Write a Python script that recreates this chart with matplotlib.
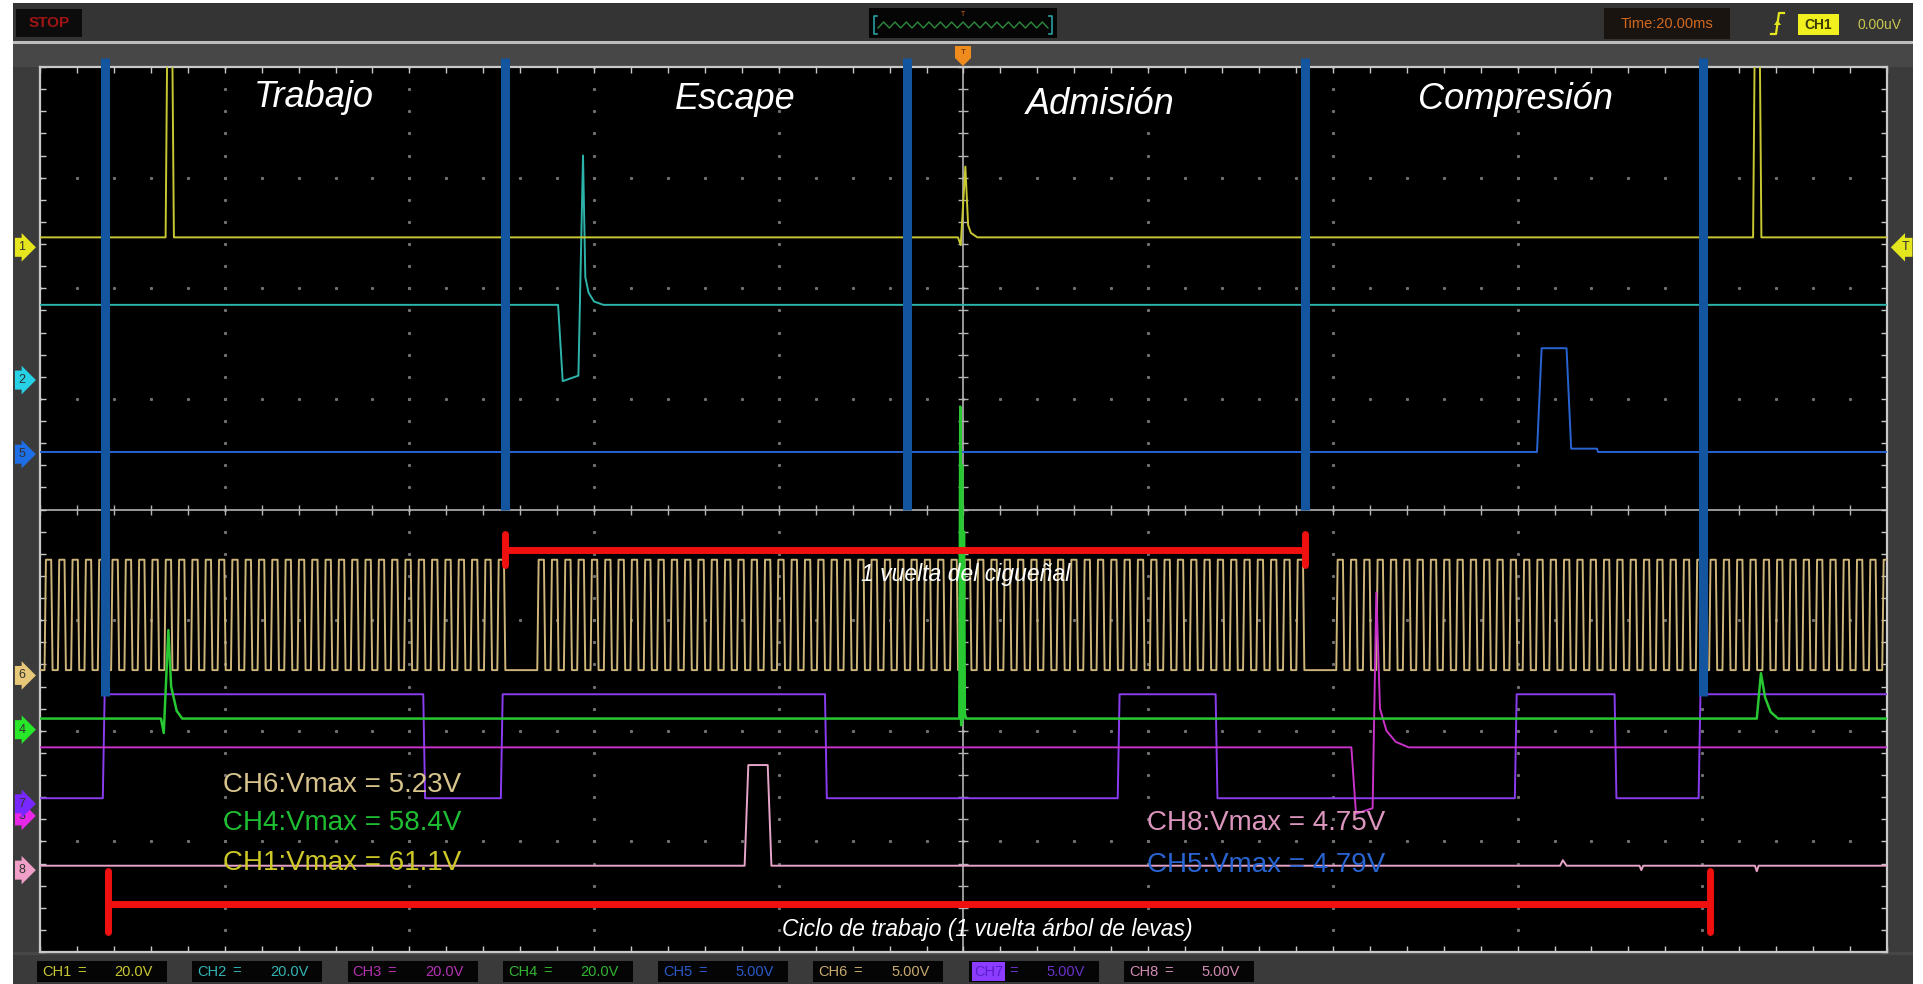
import numpy as np
import matplotlib
matplotlib.use("Agg")
import matplotlib.pyplot as plt
from matplotlib.patches import Rectangle, Polygon
from matplotlib.transforms import blended_transform_factory

plt.rcParams['font.family'] = ['Liberation Sans', 'DejaVu Sans']

W, H = 1924, 984
# screen grid in pixels (left, top, right, bottom)
GX0, GY0, GX1, GY1 = 40, 67, 1887, 952

# ---- channels -------------------------------------------------------------
channel_names = ["CH1", "CH2", "CH3", "CH4", "CH5", "CH6", "CH7", "CH8"]
volts_per_div = [20.0, 20.0, 20.0, 20.0, 5.0, 5.0, 5.0, 5.0]
scale_labels = ["20.0V", "20.0V", "20.0V", "20.0V", "5.00V", "5.00V", "5.00V", "5.00V"]
zero_levels = [2.37, 1.17, -2.77, -1.99, 0.50, -1.50, -2.66, -3.26]   # divisions
trace_colors = ["#c8c832", "#2db4aa", "#c832c8", "#28c832", "#2864d2", "#cdb478", "#8a3cf0", "#e6a5c8"]
tag_colors = ["#e6e61e", "#28d2e6", "#e628e6", "#28e628", "#1e6ee6", "#e6c878", "#7828ff", "#f0a0c8"]
label_colors = ["#c8c832", "#32b4b4", "#b432b4", "#32b432", "#2a5ac8", "#c8aa6e", "#6a32c8", "#d28cb4"]

vmax_channels = ["CH6", "CH4", "CH1", "CH8", "CH5"]
vmax_values = [5.23, 58.4, 61.1, 4.75, 4.79]
vmax_colors = ["#d7c38c", "#1ebe32", "#cdc828", "#dc96be", "#2864d2"]
vmax_pos_t = [-80.2, -80.2, -80.2, 19.9, 19.9]
vmax_pos_y = [-2.49, -2.835, -3.197, -2.835, -3.215]


def vpeak(name):
    i = channel_names.index(name)
    v = vmax_values[vmax_channels.index(name)]
    return zero_levels[i] + v / volts_per_div[i]


# CH1 ignition primary (time ms, level div)
ch1_base = 2.46
ch1_t = [-100, -86.4, -86.1, -85.8, -85.5, -0.6, -0.3, 0.2, 0.5, 0.8, 1.5, 85.5, 85.8, 86.1, 86.4, 100]
ch1_y = [ch1_base, ch1_base, vpeak("CH1"), vpeak("CH1"), ch1_base, ch1_base, 2.39, 3.10, 2.57, 2.50,
         ch1_base, ch1_base, vpeak("CH1"), vpeak("CH1"), ch1_base, ch1_base]

# CH2 injector
ch2_t = [-100, -43.9, -43.4, -41.7, -41.2, -40.95, -40.6, -40.0, -39.0, 100]
ch2_y = [1.85, 1.85, 1.16, 1.21, 3.20, 2.10, 1.96, 1.88, 1.85, 1.85]

# CH3
ch3_base = -2.15
ch3_t = [-100, 42.0, 42.5, 44.3, 44.7, 45.1, 45.8, 46.8, 48.2, 100]
ch3_y = [ch3_base, ch3_base, -2.75, -2.70, -0.75, -1.80, -2.00, -2.10, ch3_base, ch3_base]

# CH4 secondary
ch4_base = -1.89
ch4_t = [-100, -86.9, -86.6, -86.1, -85.8, -85.2, -84.6,
         -0.45, -0.35, -0.25, -0.15, -0.05, 0.05, 0.15, 0.3,
         85.9, 86.35, 86.8, 87.4, 88.2, 100]
ch4_y = [ch4_base, ch4_base, -2.02, -1.09, -1.60, -1.82, ch4_base,
         ch4_base, vpeak("CH4"), -1.95, 0.40, -1.90, -0.20, -1.85, ch4_base,
         ch4_base, -1.48, -1.70, -1.83, ch4_base, ch4_base]

# CH5 cam pulse
ch5_base = 0.52
ch5_t = [-100, 62.1, 62.6, 65.3, 65.8, 68.6, 68.7, 100]
ch5_y = [ch5_base, ch5_base, vpeak("CH5"), vpeak("CH5"), 0.55, 0.55, ch5_base, ch5_base]

# CH6 crank wheel 60-2
ch6_low = -1.452
ch6_gap_starts = [-49.76, 36.76]
ch6_teeth = 60
ch6_missing = 2

# CH7 square
ch7_high, ch7_low = -1.67, -2.61
ch7_edges = [-93.2, -58.5, -50.1, -15.0, 16.7, 27.3, 59.7, 70.5, 79.6]

# CH8
ch8_base = -3.22
ch8_t = [-100, -23.7, -23.3, -21.2, -20.8, 64.6, 64.9, 65.3, 73.2, 73.4, 73.6, 85.7, 85.9, 86.1, 100]
ch8_y = [ch8_base, ch8_base, vpeak("CH8"), vpeak("CH8"), ch8_base, ch8_base, -3.17, ch8_base,
         ch8_base, -3.26, ch8_base, ch8_base, -3.27, ch8_base, ch8_base]

# strokes
stroke_marks_t = [-93.0, -49.7, -6.1, 37.0, 80.1]
stroke_marks_bottom = [-1.69, 0.0, 0.0, 0.0, -1.69]
stroke_names = ["Trabajo", "Escape", "Admisión", "Compresión"]
stroke_label_t = [-70.4, -24.7, 14.8, 59.8]
stroke_label_y = [3.72, 3.71, 3.66, 3.71]

crank_span = [-49.7, 37.0]
crank_y = -0.37
cam_span = [-92.6, 80.8]
cam_y = -3.57


def tooth_wheel():
    rev = ch6_gap_starts[1] - ch6_gap_starts[0]
    period = rev / ch6_teeth
    high = vpeak("CH6")
    ramp = 0.15
    gaps = [ch6_gap_starts[0] - rev] + ch6_gap_starts
    t, y = [-100.0], [ch6_low]
    for g in gaps:
        first = g + (ch6_missing + 0.5) * period
        for k in range(ch6_teeth - ch6_missing):
            r = first + k * period
            t += [r, r + ramp, r + period / 2, r + period / 2 + ramp]
            y += [ch6_low, high, high, ch6_low]
    return t, y


def square(edges, low, high, ramp=0.2):
    t, y = [-100.0], [low]
    level = low
    for e in edges:
        nxt = high if level == low else low
        t += [e, e + ramp]
        y += [level, nxt]
        level = nxt
    t.append(100.0)
    y.append(level)
    return t, y


fig = plt.figure(figsize=(W / 100, H / 100), dpi=100, facecolor="white")

# ---- instrument chrome (pixel coords) ---------------------------------------
bg = fig.add_axes([0, 0, 1, 1])
bg.set_xlim(0, W)
bg.set_ylim(H, 0)
bg.axis("off")


def box(x0, y0, x1, y1, color, **kw):
    bg.add_patch(Rectangle((x0, y0), x1 - x0, y1 - y0, facecolor=color, edgecolor="none", **kw))


box(13, 3, 1913, 984, "#474747")
box(13, 3, 1913, 41, "#343434")
box(13, 41, 1913, 44, "#bdbdbd")
box(13, 67, GX0, GY1, "#3b3b3b")
box(GX1, 67, 1913, GY1, "#3b3b3b")
box(13, 955, 1913, 984, "#3a3a3a")

# STOP
box(16, 9, 82, 37, "#0c0c0c")
bg.text(49, 23, "STOP", color="#a01414", fontsize=11, fontweight="bold", ha="center", va="center")

# zoom overview window
box(869, 8, 1057, 38, "#050505")
zz_x = np.linspace(878, 1048, 31)
zz_y = np.where(np.arange(31) % 2 == 0, 28, 22)
bg.plot(zz_x, zz_y, color="#2e8b3e", lw=1)
for bx, d in [(874, 1), (1052, -1)]:
    bg.plot([bx + 3 * d, bx, bx, bx + 3 * d], [16, 16, 34, 34], color="#2aa0a0", lw=1.2)
bg.text(963, 15, "T", color="#d2691e", fontsize=5, ha="center", va="center")

# time base
box(1604, 8, 1730, 39, "#1a1410")
bg.text(1667, 24, "Time:20.00ms", color="#d2691e", fontsize=10.5, ha="center", va="center")

# trigger
bg.plot([1771, 1776, 1779, 1784], [34, 34, 13, 13], color="#e6e61e", lw=1.6)
bg.add_patch(Polygon([(1774, 25), (1781, 25), (1777.5, 20)], closed=True, fc="#e6e61e", ec="none"))
box(1798, 14, 1839, 35, "#f0f01e")
bg.text(1818.5, 25, "CH1", color="#3a3a00", fontsize=10, fontweight="bold", ha="center", va="center")
bg.text(1880, 25, "0.00uV", color="#c8c850", fontsize=10, ha="center", va="center")

# trigger position flag
bg.add_patch(Polygon([(955, 46), (971, 46), (971, 58), (963, 66), (955, 58)], closed=True,
                     fc="#f08c1e", ec="none"))
bg.text(963, 53, "T", color="#5a2800", fontsize=6, ha="center", va="center")

# channel scale boxes
for i, name in enumerate(channel_names):
    x0 = 37 + i * 155.3
    box(x0, 961, x0 + 130, 982, "#050505")
    if name == "CH7":
        bg.text(x0 + 5, 971.5, name, color="#5a1ec8", fontsize=10.5, ha="left", va="center",
                bbox=dict(boxstyle="square,pad=0.15", fc="#8c3cff", ec="none"))
    else:
        bg.text(x0 + 5, 971.5, name, color=label_colors[i], fontsize=10.5, ha="left", va="center")
    bg.text(x0 + 40, 971.5, "=", color=label_colors[i], fontsize=10.5, ha="left", va="center")
    bg.text(x0 + 116, 971.5, scale_labels[i], color=label_colors[i], fontsize=10.5,
            ha="right", va="center")

# ---- scope screen -----------------------------------------------------------
ax = fig.add_axes([GX0 / W, 1 - GY1 / H, (GX1 - GX0) / W, (GY1 - GY0) / H])
ax.set_facecolor("black")
ax.set_xlim(-100, 100)
ax.set_ylim(-4, 4)
for s in ax.spines.values():
    s.set_color("#c8c8c8")
    s.set_linewidth(1.6)
ax.set_xticks(np.arange(-100, 100.1, 4))
ax.set_yticks(np.arange(-4, 4.01, 0.2))
ax.tick_params(which="both", direction="in", length=4, width=1, color="#c8c8c8",
               top=True, right=True, labelbottom=False, labelleft=False)

# dotted graticule
fine_y = np.arange(-4, 4.01, 0.2)
fine_x = np.arange(-100, 100.1, 4)
for xv in [-80, -60, -40, -20, 20, 40, 60, 80]:
    ax.plot(np.full_like(fine_y, xv), fine_y, ls="none", marker="s", ms=1.2, color="#707070", zorder=1)
for yv in [-3, -2, -1, 1, 2, 3]:
    ax.plot(fine_x, np.full_like(fine_x, yv), ls="none", marker="s", ms=1.2, color="#707070", zorder=1)
ax.axhline(0, color="#b4b4b4", lw=1.2, zorder=1)
ax.axvline(0, color="#b4b4b4", lw=1.2, zorder=1)
ax.plot(fine_x, np.zeros_like(fine_x), ls="none", marker="|", ms=7, mew=1, color="#b4b4b4", zorder=1)
ax.plot(np.zeros_like(fine_y), fine_y, ls="none", marker="_", ms=7, mew=1, color="#b4b4b4", zorder=1)

# traces
t6, y6 = tooth_wheel()
ax.plot(t6, y6, color=trace_colors[5], lw=1.4, zorder=3)
t7, y7 = square(ch7_edges, ch7_low, ch7_high)
ax.plot(t7, y7, color=trace_colors[6], lw=1.4, zorder=3)
ax.plot(ch3_t, ch3_y, color=trace_colors[2], lw=1.4, zorder=3)
ax.plot(ch8_t, ch8_y, color=trace_colors[7], lw=1.4, zorder=3)
ax.plot(ch5_t, ch5_y, color=trace_colors[4], lw=1.4, zorder=3)
ax.plot(ch2_t, ch2_y, color=trace_colors[1], lw=1.4, zorder=3)
ax.plot(ch1_t, ch1_y, color=trace_colors[0], lw=1.4, zorder=3)
ax.plot(ch4_t, ch4_y, color=trace_colors[3], lw=1.8, zorder=3.5)

# channel offset tags
left_tr = blended_transform_factory(ax.transAxes, ax.transData)
for i, name in enumerate(channel_names):
    ax.text(-0.0098, zero_levels[i], name[2:], transform=left_tr, ha="center", va="center",
            fontsize=9, color="#303030", clip_on=False, zorder=7,
            bbox=dict(boxstyle="rarrow,pad=0.28", fc=tag_colors[i], ec="none"))
ax.text(1.0098, zero_levels[0], "T", transform=left_tr, ha="center", va="center",
        fontsize=9, color="#303030", clip_on=False, zorder=7,
        bbox=dict(boxstyle="larrow,pad=0.28", fc=tag_colors[0], ec="none"))

# stroke boundaries
for t, yb in zip(stroke_marks_t, stroke_marks_bottom):
    ax.plot([t, t], [yb, 4.08], color="#14559f", lw=6.5, solid_capstyle="butt",
            clip_on=False, zorder=4)

# crank / cam revolution bars
red = "#f01010"
ax.plot(crank_span, [crank_y, crank_y], color=red, lw=5, solid_capstyle="round", zorder=5)
for t in crank_span:
    ax.plot([t, t], [crank_y + 0.15, crank_y - 0.13], color=red, lw=5, solid_capstyle="round", zorder=5)
ax.plot(cam_span, [cam_y, cam_y], color=red, lw=5, solid_capstyle="round", zorder=5)
for t in cam_span:
    ax.plot([t, t], [cam_y + 0.30, cam_y - 0.25], color=red, lw=5, solid_capstyle="round", zorder=5)

# labels
for name, t, y in zip(stroke_names, stroke_label_t, stroke_label_y):
    ax.text(t, y, name, color="white", fontsize=26, style="italic", ha="center", va="center", zorder=6)
ax.text(0.2, -0.59, "1 vuelta del cigueñal", color="white", fontsize=16.5, style="italic",
        ha="center", va="center", zorder=6)
ax.text(2.6, -3.80, "Ciclo de trabajo (1 vuelta árbol de levas)", color="white", fontsize=16.5,
        style="italic", ha="center", va="center", zorder=6)

for name, v, c, t, y in zip(vmax_channels, vmax_values, vmax_colors, vmax_pos_t, vmax_pos_y):
    ax.text(t, y, f"{name}:Vmax = {v}V", color=c, fontsize=20, ha="left", va="center", zorder=6)

fig.savefig("out.png", dpi=100, facecolor=fig.get_facecolor())
